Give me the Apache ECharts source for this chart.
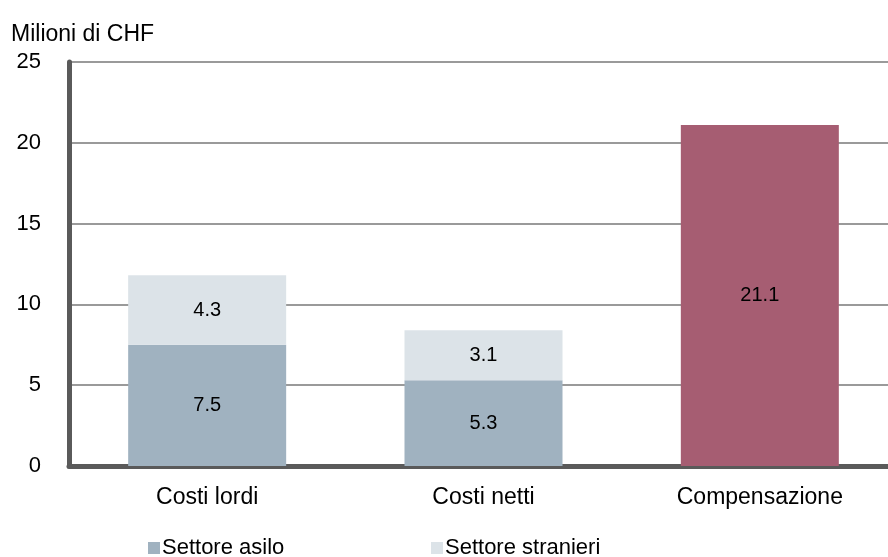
<!DOCTYPE html>
<html>
<head>
<meta charset="utf-8">
<script src="https://cdn.jsdelivr.net/npm/echarts@6/dist/echarts.min.js"></script>
<style>html,body{margin:0;padding:0;background:#fff}#c{width:888px;height:557px}</style>
</head>
<body>
<div id="c"></div>
<script>
const categories = ['Costi lordi', 'Costi netti', 'Compensazione'];
const asilo = [7.5, 5.3, null];
const stranieri = [4.3, 3.1, null];
const compensazione = [null, null, 21.1];
const yTicks = [0, 5, 10, 15, 20, 25];
const unitLabel = 'Milioni di CHF';

const FONT = '"Liberation Sans", Arial, sans-serif';
const chart = echarts.init(document.getElementById('c'), null, {renderer: 'canvas'});
const lbl = {show: true, position: 'inside', color: '#000', fontSize: 20, fontFamily: FONT,
  formatter: p => p.value == null ? '' : p.value.toFixed(1)};
chart.setOption({
  animation: false,
  title: {text: unitLabel, left: 6, top: 18, textStyle: {fontSize: 23, fontWeight: 'normal', color: '#000', fontFamily: FONT}},
  legend: [
    {data: ['Settore asilo'], left: 143, top: 532, itemWidth: 12, itemHeight: 12, icon: 'rect', itemGap: 0,
      textStyle: {fontSize: 22, color: '#000', fontFamily: FONT, padding: [0, 0, 0, -3]}},
    {data: ['Settore stranieri'], left: 426, top: 532, itemWidth: 12, itemHeight: 12, icon: 'rect', itemGap: 0,
      textStyle: {fontSize: 22, color: '#000', fontFamily: FONT, padding: [0, 0, 0, -3]}}
  ],
  grid: {left: 69, width: 829, top: 62, bottom: 91, containLabel: false, outerBoundsMode: 'none'},
  xAxis: {
    type: 'category', data: categories, offset: 2,
    axisLine: {lineStyle: {color: '#5a5a5a', width: 5}},
    axisTick: {show: false},
    axisLabel: {color: '#000', fontSize: 23, fontFamily: FONT, margin: 18}
  },
  yAxis: {
    type: 'value', min: yTicks[0], max: yTicks[yTicks.length - 1], interval: 5,
    axisLine: {show: true, lineStyle: {color: '#5a5a5a', width: 5}},
    axisTick: {show: false},
    axisLabel: {color: '#000', fontSize: 22, fontFamily: FONT, margin: 28},
    splitLine: {lineStyle: {color: '#9a9a9a', width: 2}}
  },
  series: [
    {name: 'Settore asilo', type: 'bar', stack: 's', data: asilo, barWidth: 158,
      itemStyle: {color: '#A0B2C0'}, label: lbl},
    {name: 'Settore stranieri', type: 'bar', stack: 's', data: stranieri, barWidth: 158,
      itemStyle: {color: '#DCE3E8'}, label: lbl},
    {name: 'Compensazione', type: 'bar', stack: 's', data: compensazione, barWidth: 158,
      itemStyle: {color: '#A65D72'}, label: lbl}
  ]
});
</script>
</body>
</html>
